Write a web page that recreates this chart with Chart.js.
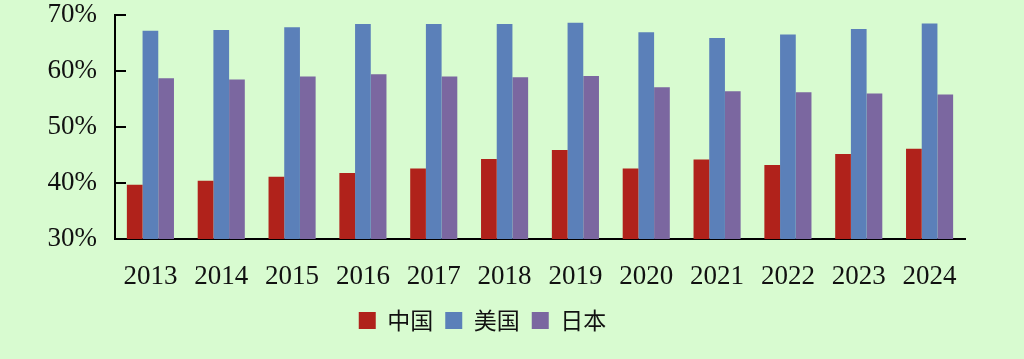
<!DOCTYPE html>
<html>
<head>
<meta charset="utf-8">
<script src="https://cdn.jsdelivr.net/npm/chart.js@4/dist/chart.umd.min.js"></script>
<style>
  html, body { margin: 0; padding: 0; background: #d8fbd0; }
  #wrap { width: 1024px; height: 359px; position: relative; }
</style>
</head>
<body>
<div id="wrap"><canvas id="c" width="1024" height="359"></canvas></div>
<script>
const categories = ['2013','2014','2015','2016','2017','2018','2019','2020','2021','2022','2023','2024'];
const seriesNames = ['中国','美国','日本'];
const chinaValues = [39.7, 40.4, 41.1, 41.8, 42.6, 44.3, 45.9, 42.6, 44.2, 43.2, 45.2, 46.1];
const usValues    = [67.2, 67.3, 67.8, 68.4, 68.4, 68.4, 68.6, 66.9, 65.9, 66.5, 67.5, 68.5];
const japanValues = [58.7, 58.5, 59.0, 59.4, 59.0, 58.9, 59.1, 57.1, 56.4, 56.2, 56.0, 55.8];
const yTicks = [30, 40, 50, 60, 70];

const colors = ['#b0221b', '#5b80b9', '#7b67a0'];
const serif = '"Liberation Serif", "Times New Roman", serif';

const innerTicks = {
  id: 'innerTicks',
  afterDraw(chart) {
    const ctx = chart.ctx, y = chart.scales.y, a = chart.chartArea;
    ctx.save();
    ctx.strokeStyle = '#000';
    ctx.lineWidth = 2;
    yTicks.forEach(v => {
      const py = Math.round(y.getPixelForValue(v));
      ctx.beginPath();
      ctx.moveTo(a.left, py);
      ctx.lineTo(a.left + 11, py);
      ctx.stroke();
    });
    ctx.restore();
  }
};

new Chart(document.getElementById('c'), {
  type: 'bar',
  data: {
    labels: categories,
    datasets: [
      { label: seriesNames[0], data: chinaValues, backgroundColor: colors[0] },
      { label: seriesNames[1], data: usValues, backgroundColor: colors[1] },
      { label: seriesNames[2], data: japanValues, backgroundColor: colors[2] }
    ]
  },
  options: {
    responsive: false,
    animation: false,
    devicePixelRatio: 1,
    layout: { padding: { left: 0, right: 59, top: 0, bottom: 17 } },
    datasets: { bar: { barPercentage: 1, categoryPercentage: 0.665 } },
    plugins: {
      legend: {
        position: 'bottom',
        labels: {
          boxWidth: 17, boxHeight: 17, padding: 12,
          color: '#111',
          font: { family: '"Noto Sans CJK SC", sans-serif', size: 23 }
        }
      },
      tooltip: { enabled: false }
    },
    scales: {
      x: {
        grid: { display: false, drawTicks: false },
        border: { display: true, color: '#000', width: 2 },
        ticks: { color: '#111', padding: 22, font: { family: serif, size: 27 }, maxRotation: 0 },
        afterFit(s) { s.height = 58; }
      },
      y: {
        min: 30, max: 70,
        afterBuildTicks(s) { s.ticks = yTicks.map(v => ({ value: v })); },
        grid: { display: false, drawTicks: false },
        border: { display: true, color: '#000', width: 2 },
        ticks: { color: '#111', padding: 18, font: { family: serif, size: 27 },
                 callback: v => v + '%' },
        afterFit(s) { s.width = 115; s.paddingTop = 15; s.paddingBottom = 0; }
      }
    }
  },
  plugins: [innerTicks]
});
</script>
</body>
</html>
